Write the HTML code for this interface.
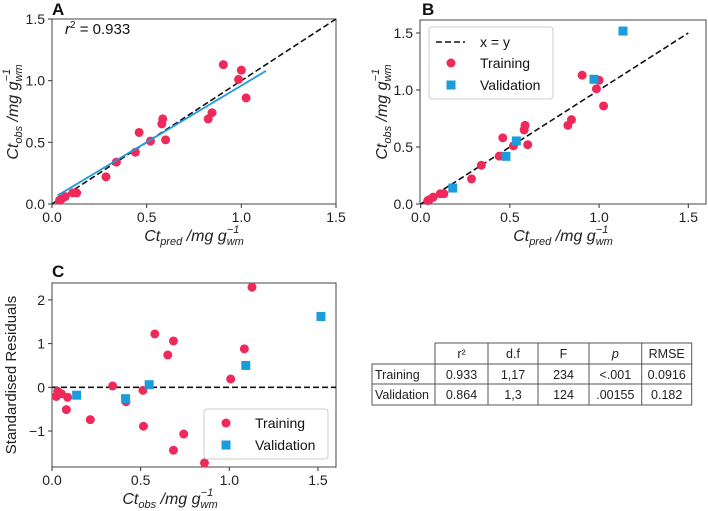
<!DOCTYPE html>
<html><head><meta charset="utf-8"><style>
body{margin:0;background:#fff;}
svg{display:block;font-family:"Liberation Sans",sans-serif;}
</style></head><body>
<svg id="fig" width="708" height="511" viewBox="0 0 708 511"></svg>
<script>
// Training data (predicted, observed)
const trainPred=[0.04,0.05,0.07,0.11,0.13,0.285,0.34,0.44,0.46,0.52,0.58,0.585,0.60,0.825,0.845,0.905,0.985,1.0,1.025];
const trainObs=[0.03,0.04,0.06,0.09,0.09,0.22,0.34,0.42,0.58,0.51,0.65,0.69,0.52,0.69,0.74,1.13,1.01,1.085,0.86];
// Validation data
const valPred=[0.18,0.478,0.536,0.971,1.134];
const valObs=[0.14,0.418,0.553,1.094,1.517];
// Residuals (vs observed)
const resTrainObs=[0.024,0.032,0.053,0.088,0.081,0.216,0.342,0.417,0.513,0.516,0.58,0.653,0.685,0.685,0.743,0.86,1.008,1.085,1.128];
const resTrain=[-0.21,-0.09,-0.15,-0.23,-0.51,-0.74,0.03,-0.33,-0.07,-0.89,1.22,0.74,1.06,-1.44,-1.07,-1.73,0.19,0.88,2.29];
const resValObs=[0.139,0.415,0.548,1.093,1.517];
const resVal=[-0.18,-0.26,0.06,0.50,1.62];
// Regression fit (intercept, slope) and x-range
const fitParams=[0.042,0.918];
const fitRange=[0.03,1.13];
const ticksAB=[0,0.5,1.0,1.5];
const ticksCY=[-1,0,1,2];
const tableHead=["","r²","d.f","F","p","RMSE"];
const tableRows=[["Training","0.933","1,17","234","<.001","0.0916"],["Validation","0.864","1,3","124",".00155","0.182"]];

const NS="http://www.w3.org/2000/svg";
const svg=document.getElementById('fig');
function el(tag,attrs,parent,text){const e=document.createElementNS(NS,tag);for(const k in attrs)e.setAttribute(k,attrs[k]);if(text!==undefined)e.textContent=text;(parent||svg).appendChild(e);return e;}
const RED="#ef2a5b",BLUE="#1c9ddb";

function panel(name,box,xd,yd){
  const g=el('g',{});
  
  
  const sx=v=>box.x0+(v-xd[0])/(xd[1]-xd[0])*(box.x1-box.x0);
  const sy=v=>box.y1-(v-yd[0])/(yd[1]-yd[0])*(box.y1-box.y0);
  return {g,sx,sy};
}
function frame(p,box){
  const r=el('rect',{x:box.x0,y:box.y0,width:box.x1-box.x0,height:box.y1-box.y0,fill:'none',stroke:'#444','stroke-width':1},p.g);
  
}
function xticks(p,box,ticks,fmt){
  ticks.forEach(t=>{const x=p.sx(t);
    el('line',{x1:x,x2:x,y1:box.y1,y2:box.y1+4,stroke:'#333'},p.g);
    const tx=el('text',{x:x,y:box.y1+18,'text-anchor':'middle','font-size':14,fill:'#222'},p.g,fmt(t));
    });
}
function yticks(p,box,ticks,fmt){
  ticks.forEach(t=>{const y=p.sy(t);
    el('line',{x1:box.x0-4,x2:box.x0,y1:y,y2:y,stroke:'#333'},p.g);
    const tx=el('text',{x:box.x0-7,y:y+5,'text-anchor':'end','font-size':14,fill:'#222'},p.g,fmt(t));
    });
}
function ctLabel(parent,x,y,sub,rot,name){
  const t=el('text',{x:x,y:y,'text-anchor':'middle','font-size':16,fill:'#222','font-style':'italic',transform:rot?`rotate(-90 ${x} ${y})`:''},parent);
  
  el('tspan',{},t,'Ct');
  el('tspan',{'font-size':11,dy:4},t,sub);
  el('tspan',{dy:-4},t,' /mg g');
  el('tspan',{'font-size':11,dy:4},t,'wm');
  el('tspan',{'font-size':11,dx:-17,dy:-12},t,'−1');
}
function dots(p,xs,ys,color,name){xs.forEach((v,i)=>{const c=el('circle',{cx:p.sx(v),cy:p.sy(ys[i]),r:4.5,fill:color},p.g);});}
function squares(p,xs,ys,color,name){xs.forEach((v,i)=>{const c=el('rect',{x:p.sx(v)-4.5,y:p.sy(ys[i])-4.5,width:9,height:9,fill:color},p.g);});}
const f1=t=>t.toFixed(1);

// Panel A
const bA={x0:52,x1:336,y0:19,y1:204};
const A=panel('panel-a',bA,[0,1.5],[0,1.5]);
frame(A,bA);
let l=el('line',{x1:A.sx(0),y1:A.sy(0),x2:A.sx(1.5),y2:A.sy(1.5),stroke:'#111','stroke-width':1.6,'stroke-dasharray':'6,3'},A.g);

dots(A,trainPred,trainObs,RED,'training-point');
l=el('line',{x1:A.sx(fitRange[0]),y1:A.sy(fitParams[0]+fitParams[1]*fitRange[0]),x2:A.sx(fitRange[1]),y2:A.sy(fitParams[0]+fitParams[1]*fitRange[1]),stroke:BLUE,'stroke-width':1.8},A.g);

xticks(A,bA,ticksAB,f1);yticks(A,bA,ticksAB,f1);
let t=el('text',{x:65,y:34,'font-size':15,fill:'#111'},A.g);
el('tspan',{'font-style':'italic'},t,'r');el('tspan',{'font-size':10,dy:-6},t,'2');el('tspan',{dy:6},t,' = 0.933');
t=el('text',{x:52,y:15,'font-size':17,'font-weight':'bold',fill:'#111'},A.g,'A');
ctLabel(A.g,194,241,'pred',false,'x-axis-title');
ctLabel(A.g,18,112,'obs',true,'y-axis-title');

// Panel B
const bB={x0:420,x1:706,y0:20,y1:204};
const B=panel('panel-b',bB,[0,1.6],[0,1.614]);
B.sx=v=>420.7+v*178.4;B.sy=v=>204-v*114;
frame(B,bB);
l=el('line',{x1:B.sx(0),y1:B.sy(0),x2:B.sx(1.5),y2:B.sy(1.5),stroke:'#111','stroke-width':1.6,'stroke-dasharray':'6,3'},B.g);

dots(B,trainPred,trainObs,RED,'training-point');
squares(B,valPred,valObs,BLUE,'validation-point');
xticks(B,bB,ticksAB,f1);yticks(B,bB,ticksAB,f1);
t=el('text',{x:422,y:15,'font-size':17,'font-weight':'bold',fill:'#111'},B.g,'B');
ctLabel(B.g,563,241,'pred',false,'x-axis-title');
ctLabel(B.g,387,112,'obs',true,'y-axis-title');
let lg=el('g',{},B.g);
el('rect',{x:429,y:27,width:124,height:72,rx:3,fill:'#fff',stroke:'#ccc'},lg);
el('line',{x1:436,x2:465,y1:42,y2:42,stroke:'#111','stroke-width':1.6,'stroke-dasharray':'6,3'},lg);
el('text',{x:480,y:47,'font-size':14,fill:'#111'},lg,'x = y');
el('circle',{cx:451,cy:63,r:4.5,fill:RED},lg);
el('text',{x:480,y:68,'font-size':14,fill:'#111'},lg,'Training');
el('rect',{x:446.5,y:80.5,width:9,height:9,fill:BLUE},lg);
el('text',{x:480,y:90,'font-size':14,fill:'#111'},lg,'Validation');

// Panel C
const bC={x0:52,x1:336,y0:283,y1:467};
const C=panel('panel-c',bC,[0,1.6],[-1.82,2.4]);
C.sx=v=>52+v*177.3;C.sy=v=>387.3-v*43.7;
frame(C,bC);
l=el('line',{x1:bC.x0,x2:bC.x1,y1:C.sy(0),y2:C.sy(0),stroke:'#111','stroke-width':1.6,'stroke-dasharray':'6,3'},C.g);

dots(C,resTrainObs,resTrain,RED,'training-residual');
squares(C,resValObs,resVal,BLUE,'validation-residual');
xticks(C,bC,ticksAB,f1);yticks(C,bC,ticksCY,v=>v<0?'−'+(-v):String(v));
t=el('text',{x:52,y:277,'font-size':17,'font-weight':'bold',fill:'#111'},C.g,'C');
ctLabel(C.g,170,504,'obs',false,'x-axis-title');
t=el('text',{x:16,y:375,'text-anchor':'middle','font-size':15,fill:'#222',transform:'rotate(-90 16 375)'},C.g,'Standardised Residuals');
lg=el('g',{},C.g);
el('rect',{x:204,y:409,width:124,height:50,rx:3,fill:'#fff',stroke:'#ccc'},lg);
el('circle',{cx:226,cy:423,r:4.5,fill:RED},lg);
el('text',{x:255,y:428,'font-size':14,fill:'#111'},lg,'Training');
el('rect',{x:221.5,y:440.5,width:9,height:9,fill:BLUE},lg);
el('text',{x:255,y:450,'font-size':14,fill:'#111'},lg,'Validation');

// Table
const tg=el('g',{});
const cols=[372,435,488,538,589,641.7,691.7];
const rowsY=[343,364,384,405];
el('rect',{x:435,y:343,width:256.7,height:21,fill:'none',stroke:'#555'},tg);
el('rect',{x:372,y:364,width:319.7,height:41,fill:'none',stroke:'#555'},tg);
el('line',{x1:372,x2:691.7,y1:384,y2:384,stroke:'#555'},tg);
for(let i=1;i<cols.length-1;i++)el('line',{x1:cols[i],x2:cols[i],y1:343,y2:405,stroke:'#555'},tg);
tableHead.forEach((h,i)=>{if(!i)return;
  const tx=el('text',{x:(cols[i]+cols[i+1])/2,y:358,'text-anchor':'middle','font-size':12.5,fill:'#222','font-style':h==='p'?'italic':'normal'},tg,h);
  });
tableRows.forEach((r,ri)=>r.forEach((v,i)=>{
  const x=i===0?375:(cols[i]+cols[i+1])/2;
  const tx=el('text',{x:x,y:rowsY[ri+1]+15,'text-anchor':i===0?'start':'middle','font-size':12.5,fill:'#222'},tg,v);
  }));
</script>
</body></html>
